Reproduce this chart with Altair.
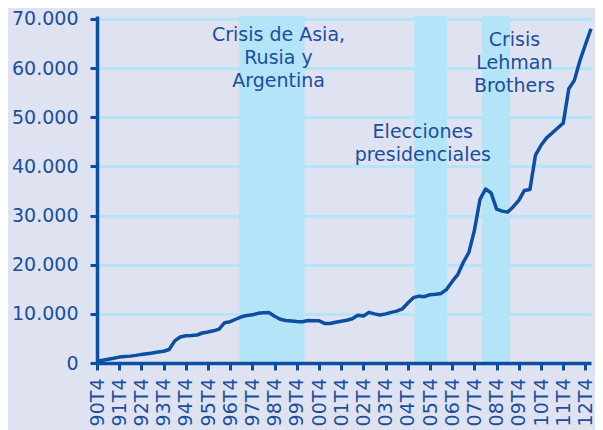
import altair as alt
import pandas as pd

# Quarterly series, starting 90T4 (one value per quarter)
values = [
    400, 550, 750, 950, 1200, 1300, 1400, 1550, 1750, 1900,
    2050, 2250, 2400, 2750, 4500, 5300, 5550, 5600, 5700, 6100,
    6300, 6550, 6900, 8200, 8400, 8900, 9400, 9650, 9800, 10100,
    10200, 10250, 9500, 8900, 8650, 8550, 8450, 8400, 8650, 8600,
    8600, 8050, 8050, 8300, 8500, 8700, 9000, 9700, 9550, 10300,
    10000, 9750, 10000, 10300, 10550, 11000, 12200, 13300, 13600, 13500,
    13900, 14000, 14150, 15000, 16600, 18000, 20500, 22500, 27000, 33300,
    35400, 34600, 31300, 30900, 30700, 31800, 33100, 35100, 35300, 42300,
    44300, 45800, 46800, 47800, 48800, 55800, 57500, 61500, 64800, 68000,
]

year_labels = ["90T4", "91T4", "92T4", "93T4", "94T4", "95T4", "96T4", "97T4",
               "98T4", "99T4", "00T4", "01T4", "02T4", "03T4", "04T4", "05T4",
               "06T4", "07T4", "08T4", "09T4", "10T4", "11T4", "12T4"]

# Shaded event periods (in quarters since 90T4)
event_start = [25.6, 57.2, 69.4]
event_end = [37.4, 63.1, 74.4]

# Annotation texts (anchored at their first line)
ann_text = ["Crisis de Asia,\nRusia y\nArgentina",
            "Elecciones\npresidenciales",
            "Crisis\nLehman\nBrothers"]
ann_q = [32.7, 58.7, 75.2]
ann_v = [66700, 47100, 65700]

y_ticks = [0, 10000, 20000, 30000, 40000, 50000, 60000, 70000]
Y_MAX = 70600
X_MAX = 89

BG = "#dfe3f1"
BAND = "#b3e4f7"
DARK = "#0b4ea2"
TXT = "#1a4f9e"
FONT = "DejaVu Sans"

df = pd.DataFrame({"q": list(range(len(values))), "v": values})
bands = pd.DataFrame({"s": event_start, "e": event_end})
ann = pd.DataFrame({"q": ann_q, "v": ann_v, "t": ann_text})

x_scale = alt.Scale(domain=[0, X_MAX], nice=False, zero=False)
y_scale = alt.Scale(domain=[0, Y_MAX], nice=False)

label_js = "[" + ",".join("'%s'" % l for l in year_labels) + "][round(datum.value/4)]"

x_axis = alt.Axis(
    values=list(range(0, 4 * len(year_labels), 4)),
    labelExpr=label_js,
    labelAngle=270,
    labelFont=FONT,
    labelFontSize=19,
    labelColor=TXT,
    labelPadding=8,
    labelOverlap=False,
    labelFlush=False,
    grid=False,
    domainColor=DARK,
    domainWidth=3.5,
    tickColor=DARK,
    tickWidth=3,
    tickSize=7,
    title=None,
    zindex=1,
)

y_axis = alt.Axis(
    values=y_ticks,
    labelExpr="replace(format(datum.value, ','), ',', '.')",
    labelFont=FONT,
    labelFontSize=19,
    labelColor=TXT,
    labelPadding=12,
    grid=True,
    gridColor=BAND,
    gridWidth=3,
    domainColor=DARK,
    domainWidth=3.5,
    tickColor=DARK,
    tickWidth=3,
    tickSize=7,
    title=None,
)

rects = alt.Chart(bands).mark_rect(color=BAND, opacity=1).encode(
    x=alt.X("s:Q", scale=x_scale, axis=x_axis),
    x2="e:Q",
)

line = alt.Chart(df).mark_line(color=DARK, strokeWidth=3.5, strokeJoin="round").encode(
    x=alt.X("q:Q", scale=x_scale, axis=x_axis),
    y=alt.Y("v:Q", scale=y_scale, axis=y_axis),
)

texts = alt.Chart(ann).mark_text(
    font=FONT, fontSize=19, color=TXT, lineBreak="\n", lineHeight=23,
    align="center", baseline="middle",
).encode(
    x=alt.X("q:Q", scale=x_scale, axis=x_axis),
    y=alt.Y("v:Q", scale=y_scale, axis=y_axis),
    text="t:N",
)

chart = alt.layer(rects, line, texts).properties(
    width=494,
    height=347,
    autosize=alt.AutoSizeParams(type="none"),
    padding={"left": 89, "top": 8, "right": 4, "bottom": 67},
    background=BG,
).configure_view(stroke=None)

chart.save("out.html", embed_options={"renderer": "svg", "actions": False})
